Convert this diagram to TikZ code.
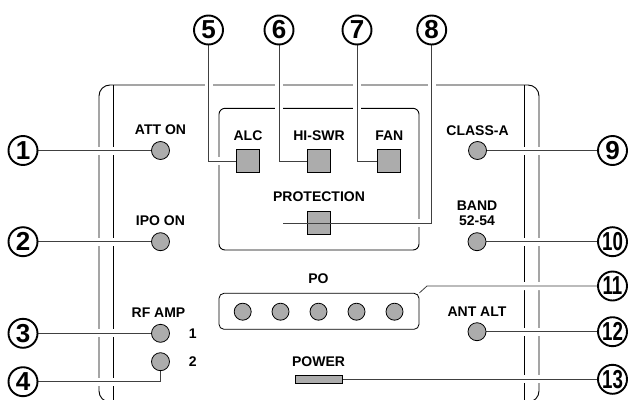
\documentclass[tikz,border=0pt]{standalone}
\usepackage{fontspec}
\setmainfont{Liberation Sans}
\usepackage{graphicx}
\usepackage{xcolor}
\usepackage{tikz}
\usetikzlibrary{positioning, calc}

\definecolor{ledgray}{RGB}{172,172,172}
\newcommand{\twodig}[1]{\scalebox{0.72}[1]{#1}}

\pgfdeclarelayer{frames}
\pgfdeclarelayer{leads}
\pgfsetlayers{frames,leads,main}

\begin{document}
\begin{tikzpicture}[
    x=1pt, y=-1pt,
    every node/.style={font=\bfseries\fontsize{14}{14}\selectfont},
    lbl/.style={anchor=base, inner sep=0pt},
    led/.style={circle, draw, fill=ledgray, line width=0.8pt, minimum size=18pt, inner sep=0pt},
    lamp/.style={rectangle, draw, fill=ledgray, line width=1.2pt, minimum size=23pt, inner sep=0pt},
    callout/.style={circle, draw, line width=1.9pt, minimum size=29pt, inner sep=0pt,
      font=\bfseries\fontsize{26}{26}\selectfont},
    leader/.style={draw=black!75, line width=0.8pt, preaction={draw=white, line width=8pt}},
    frameline/.style={draw, line width=0.9pt}
  ]
  \useasboundingbox (0,0) rectangle (629,399);
  \clip (0,0) rectangle (629,399);

  % left column
  \node[led] (att) at (160.5,150.5) {};
  \node[lbl] (attlbl) at (160.5,134.3) {ATT ON};
  \node[led] (ipo) at (160.5,241.7) {};
  \node[lbl] (ipolbl) at (160.5,225.7) {IPO ON};
  \node[led] (rf1) at (160.5,333.3) {};
  \node[led] (rf2) at (160.5,361.7) {};
  \node[lbl] (rflbl) at (158.5,317.3) {RF AMP};
  \node[lbl] (rf1lbl) at (192.7,338.3) {1};
  \node[lbl] (rf2lbl) at (192.7,366.7) {2};

  % protection block
  \node[lamp] (alc) at (248,161.3) {};
  \node[lamp] (hiswr) at (319,161.3) {};
  \node[lamp] (fan) at (389.3,161.3) {};
  \node[lamp] (prot) at (319,223.3) {};
  \node[lbl] (alclbl) at (248,140.7) {ALC};
  \node[lbl] (hiswrlbl) at (319,140.7) {HI-SWR};
  \node[lbl] (fanlbl) at (389.3,140.7) {FAN};
  \node[lbl] (protlbl) at (319,201.7) {PROTECTION};
  \coordinate (protin) at (283.3,223.3);
  \draw[black!75, line width=0.8pt] (protin) -- (prot.east);

  % right column
  \node[led] (classa) at (477.5,150.5) {};
  \node[lbl] (classalbl) at (477.5,135) {CLASS-A};
  \node[led] (band) at (477,241.7) {};
  \node[lbl] (bandlbl) at (477,210) {BAND};
  \node[lbl] (bandlbl2) at (477,225) {52-54};
  \node[led] (antalt) at (477,331.7) {};
  \node[lbl] (antaltlbl) at (477,316.7) {ANT ALT};

  % PO meter
  \node[draw, rounded corners=5pt, line width=0.8pt, minimum width=200pt,
    minimum height=36pt, inner sep=0pt] (pobox) at (319,311.3) {};
  \foreach \i/\x in {1/242.7, 2/280.5, 3/318.5, 4/356.5, 5/394.5}
    \node[led, minimum size=17pt] (po\i) at (\x,311.7) {};
  \node[lbl] (polbl) at (318.5,283.3) {PO};

  % power
  \node[draw, fill=ledgray, line width=1pt, minimum width=47pt, minimum height=8pt,
    inner sep=0pt] (power) at (319,379.3) {};
  \node[lbl] (powerlbl) at (318.5,366) {POWER};

  % callouts
  \node[callout] (n1) at (23,150.5) {1};
  \node[callout] (n2) at (23,241.7) {2};
  \node[callout] (n3) at (23,333.3) {3};
  \node[callout] (n4) at (23,381.7) {4};
  \node[callout] (n5) at (208.5,30) {5};
  \node[callout] (n6) at (279,30) {6};
  \node[callout] (n7) at (357,30) {7};
  \node[callout] (n8) at (431.7,30) {8};
  \node[callout] (n9) at (612.5,150.5) {9};
  \node[callout] (n10) at (612.5,241.7) {\twodig{10}};
  \node[callout] (n11) at (612.5,286) {\twodig{11}};
  \node[callout] (n12) at (612.5,331.7) {\twodig{12}};
  \node[callout] (n13) at (612.5,379.3) {\twodig{13}};
  \coordinate (k11) at (427,286);

  \begin{pgfonlayer}{frames}
    \draw[frameline, rounded corners=11pt] (99,85) rectangle (539,402);
    \draw[frameline] (113,85) -- (113,405);
    \draw[frameline] (524,85) -- (524,405);
    \draw[frameline, rounded corners=6pt] (219,108.3) rectangle (419,250);
  \end{pgfonlayer}

  \begin{pgfonlayer}{leads}
    \draw[leader] (n1) -- (att);
    \draw[leader] (n2) -- (ipo);
    \draw[leader] (n3) -- (rf1);
    \draw[leader] (n4) -| (rf2);
    \draw[leader] (n5) |- (alc);
    \draw[leader] (n6) |- (hiswr);
    \draw[leader] (n7) |- (fan);
    \draw[leader] (n8) |- (protin);
    \draw[leader] (classa) -- (n9);
    \draw[leader] (band) -- (n10);
    \draw[leader] (n11) -- (k11) -- (pobox.north east);
    \draw[leader] (antalt) -- (n12);
    \draw[leader] (power) -- (n13);
  \end{pgfonlayer}
\end{tikzpicture}
\end{document}
